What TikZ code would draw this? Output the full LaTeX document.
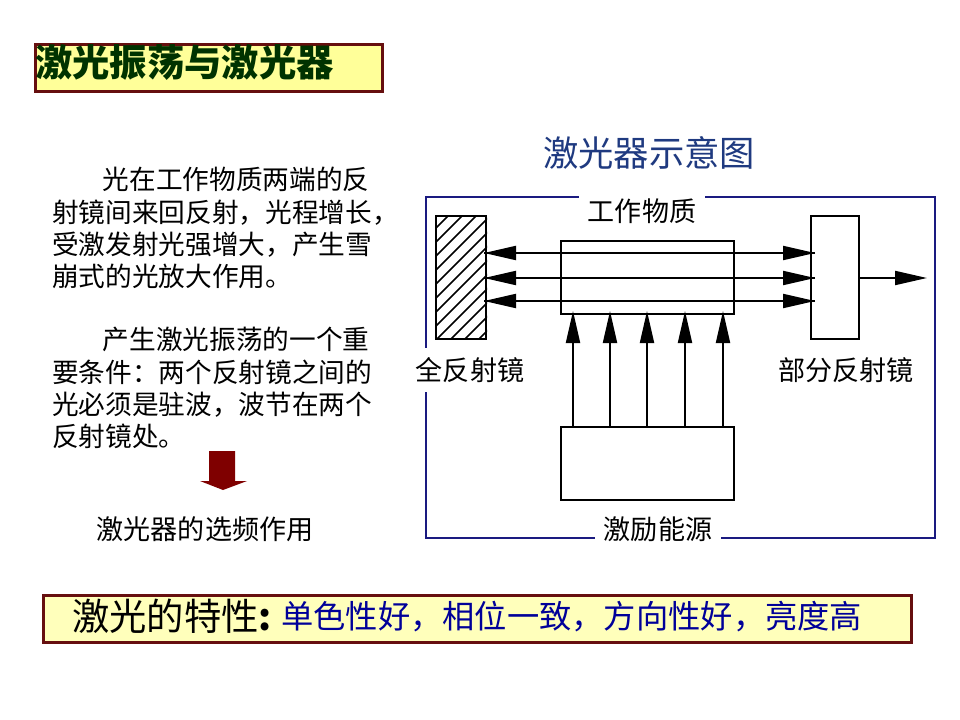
\documentclass[tikz,border=0pt]{standalone}
\usepackage{fontspec}
\setmainfont{Noto Sans CJK SC}
\usetikzlibrary{arrows.meta}
\definecolor{boxyellow}{HTML}{FFFF99}
\definecolor{barpale}{HTML}{FFFFBB}
\definecolor{boxborder}{HTML}{660F0F}
\definecolor{titlegreen}{HTML}{003300}
\definecolor{framenavy}{HTML}{1A1A80}
\definecolor{headblue}{HTML}{1F3A80}
\definecolor{arrowred}{HTML}{7F0000}
\tikzset{
    px/.style={x=0.75pt,y=-0.75pt},
    mirrorbox/.style={draw,line width=1.5pt,minimum width=50*0.75pt,minimum height=123*0.75pt,inner sep=0pt},
    rodbox/.style={draw,line width=1.5pt,minimum width=173*0.75pt,minimum height=73*0.75pt,inner sep=0pt},
    caption/.style={fill=white,inner xsep=7pt,inner ysep=0pt,minimum height=33pt,font=\fontsize{20.3}{24}\selectfont},
    beam/.style={line width=1.5pt},
    bigtip/.style={-{Triangle[length=24pt,width=10.5pt]}},
    banner/.style={draw=boxborder,line width=2.2pt,inner sep=0pt,anchor=north west},
    bodytext/.style={anchor=north west,align=left,inner sep=0pt,font=\fontsize{20}{24.3}\selectfont}
}
\begin{document}
\begin{tikzpicture}[px]
    \useasboundingbox (0,0) rectangle (960,720);

    % Title bar
    \node[banner,fill=boxyellow,minimum width=347*0.75pt,minimum height=47*0.75pt] (titlebar) at (34,43) {};
    \node[anchor=west,inner sep=0pt,text=titlegreen,font=\fontsize{28}{30}\selectfont\bfseries] (titletext) at (35,63) {激光振荡与激光器};

    % Left text
    \node[bodytext] (parone) at (52,167) {\hspace*{38pt}光在工作物质两端的反\\射镜间来回反射，光程增长，\\受激发射光强增大，产生雪\\崩式的光放大作用。};
    \node[bodytext] (partwo) at (52,327) {\hspace*{38pt}产生激光振荡的一个重\\要条件：两个反射镜之间的\\光必须是驻波，波节在两个\\反射镜处。};
    \fill[arrowred] (209,451) -- (235,451) -- (235,481) -- (247,481) -- (223,490) -- (200,481) -- (209,481) -- cycle;
    \node[inner sep=0pt,font=\fontsize{20.3}{24}\selectfont] (selecttext) at (205,529) {激光器的选频作用};

    % Heading and outer frame
    \node[text=headblue,inner sep=0pt,font=\fontsize{26.5}{30}\selectfont] (heading) at (649,153) {激光器示意图};
    \draw[framenavy,line width=2.2pt] (426,197) rectangle (935,538);

    % Captions cover the frame
    \node[caption] (rodlabel) at (642,211) {工作物质};
    \node[caption] (pumplabel) at (658,529) {激励能源};
    \node[caption,inner xsep=0pt] (fulllabel) at (470,370) {全反射镜};
    \node[caption,inner xsep=0pt] (partlabel) at (846,370) {部分反射镜};

    % Mirrors, rod and pump
    \node[mirrorbox] (fullmirror) at (461,277.5) {};
    \begin{scope}
        \clip (fullmirror.south west) rectangle (fullmirror.north east);
        \foreach \x in {0,...,13} {
            \draw[line width=1.1pt] (436+14*\x-125,339) -- (436+14*\x-2,216);
        }
    \end{scope}
    \node[mirrorbox,minimum width=48*0.75pt] (partmirror) at (835,277.5) {};
    \node[rodbox] (rod) at (647.5,277.5) {};
    \node[rodbox] (pump) at (647.5,463.5) {};

    % Beams between the mirrors
    \foreach \y/\name in {253/a, 278/b, 301/c} {
        \coordinate (left\name) at (484,\y);
        \coordinate (right\name) at (815,\y);
        \draw[beam,bigtip] (left\name) -- (right\name);
        \draw[beam,bigtip] (right\name) -- (left\name);
    }

    % Output beam
    \coordinate (outend) at (927,278);
    \draw[beam,bigtip] (partmirror.east |- outend) -- (outend);

    % Pump arrows
    \foreach \x/\name in {573/a, 610/b, 647/c, 685/d, 723/e} {
        \coordinate (pumpend\name) at (\x,311);
        \draw[beam,bigtip] (pumpend\name |- pump.north) -- (pumpend\name);
    }

    % Bottom bar
    \node[banner,fill=barpale,minimum width=868*0.75pt,minimum height=47*0.75pt] (propbar) at (42,594) {};
    \node[anchor=west,inner sep=0pt,font=\fontsize{28}{30}\selectfont] (propname) at (72,616) {激光的特性{\bfseries :}};
    \node[anchor=west,inner sep=0pt,text=blue!60!black,font=\fontsize{24.2}{30}\selectfont] (proptext) at (281,617) {单色性好，相位一致，方向性好，亮度高};
\end{tikzpicture}
\end{document}
